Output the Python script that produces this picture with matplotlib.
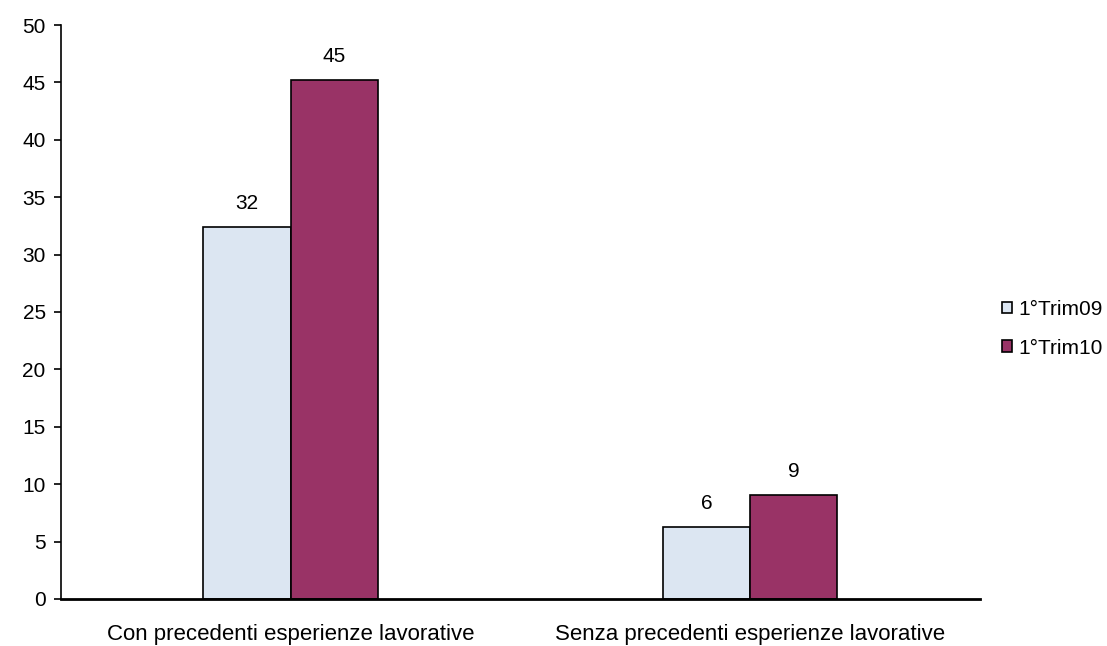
import matplotlib.pyplot as plt
import numpy as np

plt.rcParams['font.family'] = ['Liberation Sans', 'DejaVu Sans']

categories = ["Con precedenti esperienze lavorative", "Senza precedenti esperienze lavorative"]
series_names = ["1°Trim09", "1°Trim10"]
trim09 = [32.4, 6.3]
trim10 = [45.2, 9.1]
colors = ["#DCE6F2", "#993366"]

fig = plt.figure(figsize=(11.07, 6.46), dpi=100)
ax = fig.add_axes([0.0551, 0.0728, 0.8299, 0.8885])

x = np.arange(len(categories))
w = 0.19
for i, (vals, name, c) in enumerate(zip([trim09, trim10], series_names, colors)):
    pos = x + (i - 0.5) * w
    bars = ax.bar(pos, vals, width=w, color=c, edgecolor="black", linewidth=1.2, label=name)
    for b, v in zip(bars, vals):
        ax.text(b.get_x() + b.get_width() / 2, v + 1.2, f"{v:.0f}",
                ha="center", va="bottom", fontsize=15)

ax.set_xlim(-0.5, 1.5)
ax.set_ylim(0, 50)
ax.set_yticks(range(0, 51, 5))
ax.set_xticks(x)
ax.set_xticklabels(categories, fontsize=16)
ax.tick_params(axis="x", length=0, pad=18)
ax.tick_params(axis="y", labelsize=15, length=5, width=1.2, pad=6)
for s in ["top", "right"]:
    ax.spines[s].set_visible(False)
ax.spines["left"].set_linewidth(1.2)
ax.spines["bottom"].set_linewidth(2)

leg = fig.legend(loc="center left", bbox_to_anchor=(0.888, 0.491), frameon=False,
                 fontsize=15, handlelength=0.5, handleheight=0.5, handletextpad=0.3,
                 labelspacing=0.95)
plt.savefig("out.png", dpi=100)
